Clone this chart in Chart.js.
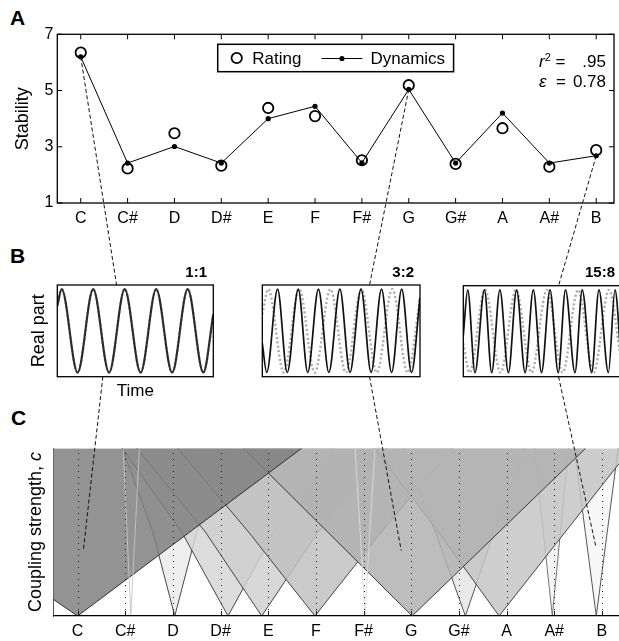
<!DOCTYPE html>
<html>
<head>
<meta charset="utf-8">
<title>Tonal stability, mode-locking and Arnold tongues</title>
<script src="https://cdn.jsdelivr.net/npm/chart.js@4.4.1/dist/chart.umd.min.js"></script>
<style>
  html, body { margin: 0; padding: 0; background: #fff; }
  body {
    position: relative; width: 619px; height: 641px; overflow: hidden;
    font-family: "Liberation Sans", Arial, sans-serif; color: #000;
  }
  canvas { position: absolute; }
  #overlay { pointer-events: none; }
  .panel-letter { position: absolute; font-weight: bold; font-size: 21px; line-height: 21px; }
  .stats { position: absolute; left: 539px; top: 52px; width: 67px; font-size: 17px; line-height: 20px; }
  .stats div { display: flex; justify-content: space-between; }
  .stats sup { font-size: 11px; line-height: 0; vertical-align: 6px; }
  .ytitle {
    position: absolute; left: 35px; top: 532px; font-size: 18px; white-space: nowrap;
    transform: translate(-50%, -50%) rotate(-90deg);
  }
</style>
</head>
<body>
<div class="panel-letter" style="left:10px;top:7px">A</div>
<div class="panel-letter" style="left:10px;top:245px">B</div>
<div class="panel-letter" style="left:11px;top:407px">C</div>

<canvas id="chartA" width="621" height="240" style="left:0;top:0"></canvas>
<canvas id="box1" width="230" height="160" style="left:0;top:250px"></canvas>
<canvas id="box2" width="180" height="135" style="left:250px;top:255px"></canvas>
<canvas id="box3" width="180" height="135" style="left:450px;top:255px"></canvas>
<canvas id="chartC" width="619" height="201" style="left:0;top:440px"></canvas>

<div class="stats">
  <div><span><i>r</i><sup>2</sup> =</span><span>.95</span></div>
  <div><span><i>ε</i>&nbsp; =</span><span>0.78</span></div>
</div>
<div class="ytitle">Coupling strength, <i>c</i></div>

<canvas id="overlay" width="619" height="641" style="left:0;top:0"></canvas>

<script>
// ---- panel A: stability per scale degree ----
const noteNames = ['C', 'C#', 'D', 'D#', 'E', 'F', 'F#', 'G', 'G#', 'A', 'A#', 'B'];
const ratingValues = [6.35, 2.23, 3.48, 2.33, 4.38, 4.09, 2.52, 5.19, 2.39, 3.66, 2.29, 2.88];
const dynamicsValues = [6.20, 2.42, 3.01, 2.42, 4.00, 4.44, 2.43, 5.04, 2.42, 4.20, 2.42, 2.68];
const stabilityTicks = [1, 3, 5, 7];

// ---- panel B: waveform extrema (time in periods of the C oscillator) ----
const ref1Times = [0, 0.14, 0.65, 1.15, 1.66, 2.16, 2.67, 3.17, 3.68, 4.18, 4.68, 5];
const ref1Values = [0.6, 1, -1, 1, -1, 1, -1, 1, -1, 1, -1, 0.4];
const tone1Times = [0, 0.14, 0.65, 1.15, 1.66, 2.16, 2.67, 3.17, 3.68, 4.18, 4.68, 5];
const tone1Values = [0.6, 1, -1, 1, -1, 1, -1, 1, -1, 1, -1, 0.4];

const ref2Times = [0, 0.19, 0.68, 1.17, 1.66, 2.16, 2.65, 3.14, 3.63, 4.12, 4.61, 5];
const ref2Values = [0.4, 1, -1, 1, -1, 1, -1, 1, -1, 1, -1, 0.78];
const tone2Times = [0, 0.14, 0.485, 0.79, 1.14, 1.44, 1.78, 2.11, 2.46, 2.78, 3.13, 3.45, 3.78, 4.10, 4.42, 4.73, 5];
const tone2Values = [-0.3, -1, 1, -1, 1, -1, 1, -1, 1, -1, 1, -1, 1, -1, 1, -1, 0.8];

const ref3Times = [0, 0.20, 0.69, 1.18, 1.67, 2.16, 2.65, 3.15, 3.64, 4.13, 4.62, 5];
const ref3Values = [-0.3, -1, 1, -1, 1, -1, 1, -1, 1, -1, 1, -0.7];
const tone3Times = [0, 0.14, 0.37, 0.67, 0.90, 1.16, 1.43, 1.69, 1.96, 2.22, 2.48, 2.75, 3.01, 3.24, 3.54, 3.77, 4.07, 4.30, 4.60, 4.81, 5];
const tone3Values = [-0.1, 1, -1, 1, -1, 1, -1, 1, -1, 1, -1, 1, -1, 1, -1, 1, -1, 1, -1, 1, -0.65];

const boxRatios = ['1:1', '3:2', '15:8'];

// ---- panel C: resonance regions (x in semitones above C, widths at c = 0.5 and c = 1) ----
const tongueCents = [0, 111.7, 203.9, 315.6, 386.3, 498.0, 603.0, 702.0, 813.7, 884.4, 996.1, 1088.3];
const tongueLeftMid = [2.57, 0.08, 0.46, 0.97, 1.18, 1.39, 0.10, 1.77, 0.63, 1.27, 0.19, 0.23];
const tongueLeftTop = [5.14, 0.16, 1.10, 2.22, 2.62, 2.88, 0.21, 3.54, 1.30, 2.62, 0.38, 0.46];
const tongueRightMid = [2.35, 0.09, 0.46, 0.97, 1.18, 1.39, 0.10, 1.82, 0.60, 1.385, 0.17, 0.23];
const tongueRightTop = [4.70, 0.18, 1.10, 2.22, 2.62, 2.88, 0.21, 3.64, 1.24, 2.77, 0.34, 0.46];
const tongueGrey = [128, null, 235, 214, 208, 193, null, 178, 229, 198, 243, 246];
const tongueEdge = ['#222', '#c4c4c4', '#333', '#333', '#333', '#333', '#dadada', '#2a2a2a', '#444', '#333', '#666', '#444'];
const tongueDrawOrder = [11, 10, 2, 8, 3, 4, 5, 9, 7, 0, 1, 6];

// ---- dashed links A -> B -> C ----
const linkNotes = [0, 7, 11];
const linkTopTime = [1.90, 3.40, 3.02];
const linkBottomTime = [1.46, 3.40, 3.02];
const linkTargetX = [0.12, 6.79, 10.87];
const linkTargetC = [0.39, 0.39, 0.42];

Chart.defaults.font.family = '"Liberation Sans", Arial, sans-serif';
Chart.defaults.font.size = 16;
Chart.defaults.color = '#000';
Chart.defaults.animation = false;

const noteTicks = (scale) => { scale.ticks = noteNames.map((_, i) => ({ value: i })); };
const hiddenGrid = { drawOnChartArea: false, drawTicks: false };
const basePlugins = { legend: { display: false }, tooltip: { enabled: false } };

const frame = {
  id: 'frame',
  afterDatasetsDraw(chart, args, opts) {
    const { ctx, chartArea: a } = chart;
    ctx.save();
    ctx.lineWidth = opts.width;
    ctx.strokeStyle = opts.color;
    ctx.strokeRect(a.left, a.top, a.right - a.left, a.bottom - a.top);
    ctx.restore();
  }
};

// MATLAB-style ticks pointing into the plot
const innerTicks = {
  id: 'innerTicks',
  afterDatasetsDraw(chart, args, opts) {
    const { ctx, chartArea: a, scales } = chart;
    const len = opts.length;
    ctx.save();
    ctx.lineWidth = 1;
    ctx.strokeStyle = opts.color;
    ctx.beginPath();
    scales.x.ticks.forEach((t) => {
      const px = scales.x.getPixelForValue(t.value);
      ctx.moveTo(px, a.bottom); ctx.lineTo(px, a.bottom - len);
      if (opts.mirror) { ctx.moveTo(px, a.top); ctx.lineTo(px, a.top + len); }
    });
    if (opts.yTicks) {
      scales.y.ticks.forEach((t) => {
        const py = scales.y.getPixelForValue(t.value);
        ctx.moveTo(a.left, py); ctx.lineTo(a.left + len, py);
        ctx.moveTo(a.right, py); ctx.lineTo(a.right - len, py);
      });
    }
    ctx.stroke();
    ctx.restore();
  }
};

const boxedLegend = {
  id: 'boxedLegend',
  afterDatasetsDraw(chart, args, opts) {
    const { ctx, chartArea: area } = chart;
    const [rating, dynamics] = chart.data.datasets;
    ctx.save();
    ctx.font = `${opts.fontSize}px ${Chart.defaults.font.family}`;
    const w1 = ctx.measureText(rating.label).width;
    const w2 = ctx.measureText(dynamics.label).width;
    const width = 14 + 10 + 10.6 + w1 + 20 + 41 + 8 + w2 + 8.5;
    const left = (area.left + area.right) / 2 - width / 2;
    const top = area.top + opts.offsetTop;
    const cy = top + opts.height / 2;
    ctx.fillStyle = '#fff';
    ctx.fillRect(left, top, width, opts.height);
    ctx.strokeStyle = '#000';
    ctx.lineWidth = 1.5;
    ctx.strokeRect(left, top, width, opts.height);

    let x = left + 14;
    ctx.lineWidth = rating.pointBorderWidth;
    ctx.beginPath();
    ctx.arc(x + 5, cy, rating.pointRadius, 0, Math.PI * 2);
    ctx.stroke();
    x += 20.6;
    ctx.fillStyle = '#000';
    ctx.textAlign = 'left';
    ctx.textBaseline = 'middle';
    ctx.fillText(rating.label, x, cy + 1);
    x += w1 + 20;
    ctx.lineWidth = dynamics.borderWidth;
    ctx.beginPath();
    ctx.moveTo(x, Math.round(cy) + 0.5); ctx.lineTo(x + 41, Math.round(cy) + 0.5);
    ctx.stroke();
    ctx.beginPath();
    ctx.arc(x + 20.5, Math.round(cy) + 0.5, dynamics.pointRadius, 0, Math.PI * 2);
    ctx.fill();
    x += 49;
    ctx.fillText(dynamics.label, x, cy + 1);
    ctx.restore();
  }
};

const ratioLabel = {
  id: 'ratioLabel',
  afterDraw(chart, args, opts) {
    const { ctx, chartArea: a } = chart;
    ctx.save();
    ctx.font = `bold ${opts.size}px ${Chart.defaults.font.family}`;
    ctx.fillStyle = '#000';
    ctx.textAlign = 'right';
    ctx.textBaseline = 'alphabetic';
    ctx.fillText(opts.text, a.right - opts.inset, a.top - opts.rise);
    ctx.restore();
  }
};

const semitoneGuides = {
  id: 'semitoneGuides',
  afterDatasetsDraw(chart) {
    const { ctx, chartArea: a, scales: { x } } = chart;
    ctx.save();
    ctx.strokeStyle = '#222';
    ctx.lineWidth = 1;
    x.ticks.forEach((t) => {
      const px = Math.round(x.getPixelForValue(t.value)) + 0.5;
      ctx.setLineDash([1, 5]);
      ctx.beginPath();
      ctx.moveTo(px, a.bottom - 6); ctx.lineTo(px, a.top);
      ctx.stroke();
      ctx.setLineDash([]);
      ctx.beginPath();
      ctx.moveTo(px, a.bottom); ctx.lineTo(px, a.bottom - 5);
      ctx.stroke();
    });
    ctx.restore();
  }
};

// ---------- panel A ----------
const chartA = new Chart(document.getElementById('chartA'), {
  type: 'line',
  data: {
    datasets: [
      {
        label: 'Rating',
        data: ratingValues.map((v, i) => ({ x: i, y: v })),
        showLine: false,
        pointStyle: 'circle',
        pointRadius: 5.2,
        pointBorderWidth: 1.8,
        pointBorderColor: '#000',
        pointBackgroundColor: 'rgba(0,0,0,0)',
        order: 2
      },
      {
        label: 'Dynamics',
        data: dynamicsValues.map((v, i) => ({ x: i, y: v })),
        borderColor: '#000',
        borderWidth: 1,
        pointRadius: 2.6,
        pointBorderWidth: 0,
        pointBackgroundColor: '#000',
        order: 1
      }
    ]
  },
  options: {
    responsive: false,
    events: [],
    layout: { padding: { top: 34.3, right: 0.5, left: 0, bottom: 0 } },
    plugins: {
      ...basePlugins,
      frame: { width: 1.3, color: '#000' },
      innerTicks: { length: 5, color: '#000', mirror: true, yTicks: true },
      boxedLegend: { fontSize: 17, offsetTop: 10, height: 27.4 }
    },
    scales: {
      x: {
        type: 'linear', min: -0.5, max: 11.38,
        afterBuildTicks: noteTicks,
        afterFit: (s) => { s.height = 37; },
        grid: hiddenGrid,
        border: { display: false },
        ticks: { autoSkip: false, maxRotation: 0, padding: 6, callback: (v) => noteNames[v] }
      },
      y: {
        type: 'linear', min: 1, max: 7,
        afterBuildTicks: (s) => { s.ticks = stabilityTicks.map((v) => ({ value: v })); },
        afterFit: (s) => { s.width = 57.3; },
        grid: hiddenGrid,
        border: { display: false },
        ticks: { padding: 4 },
        title: { display: true, text: 'Stability', font: { size: 18 }, padding: { top: 12, bottom: 0 } }
      }
    }
  },
  plugins: [frame, innerTicks, boxedLegend]
});

// ---------- panel B ----------
function waveSets(refTimes, refValues, toneTimes, toneValues, toneColor, toneWidth) {
  return [
    {
      label: 'C oscillator',
      data: refTimes.map((t, i) => ({ x: t, y: refValues[i] })),
      borderColor: '#a9a9a9',
      borderWidth: 2.4,
      borderDash: [2, 2.4],
      cubicInterpolationMode: 'monotone',
      pointRadius: 0,
      order: 2
    },
    {
      label: 'Tone oscillator',
      data: toneTimes.map((t, i) => ({ x: t, y: toneValues[i] })),
      borderColor: toneColor,
      borderWidth: toneWidth,
      cubicInterpolationMode: 'monotone',
      pointRadius: 0,
      order: 1
    }
  ];
}

const box1 = new Chart(document.getElementById('box1'), {
  type: 'line',
  data: { datasets: waveSets(ref1Times, ref1Values, tone1Times, tone1Values, '#2b2b2b', 2.1) },
  options: {
    responsive: false,
    events: [],
    layout: { padding: { top: 35, right: 16.7, left: 0, bottom: 0 } },
    plugins: {
      ...basePlugins,
      frame: { width: 1.3, color: '#000' },
      ratioLabel: { text: boxRatios[0], size: 15, inset: 6.3, rise: 8.3 }
    },
    scales: {
      x: {
        type: 'linear', min: 0, max: 5,
        afterFit: (s) => { s.height = 33.3; },
        grid: hiddenGrid, border: { display: false }, ticks: { display: false },
        title: { display: true, text: 'Time', font: { size: 17 }, padding: { top: 0, bottom: 8 } }
      },
      y: {
        type: 'linear', min: -1.1, max: 1.1,
        afterFit: (s) => { s.width = 57.3; },
        grid: hiddenGrid, border: { display: false }, ticks: { display: false },
        title: { display: true, text: 'Real part', font: { size: 18 }, padding: { top: 28, bottom: 0 } }
      }
    }
  },
  plugins: [frame, ratioLabel]
});

function smallBox(id, sets, label, padding) {
  return new Chart(document.getElementById(id), {
    type: 'line',
    data: { datasets: sets },
    options: {
      responsive: false,
      events: [],
      layout: { padding },
      plugins: {
        ...basePlugins,
        frame: { width: 1.3, color: '#000' },
        ratioLabel: { text: label, size: 15, inset: 6, rise: 8.3 }
      },
      scales: {
        x: { type: 'linear', min: 0, max: 5, display: false },
        y: { type: 'linear', min: -1.1, max: 1.1, display: false }
      }
    },
    plugins: [frame, ratioLabel]
  });
}

const box2 = smallBox('box2', waveSets(ref2Times, ref2Values, tone2Times, tone2Values, '#111', 1.7),
  boxRatios[1], { left: 12.3, top: 30, right: 10, bottom: 13.3 });
const box3 = smallBox('box3', waveSets(ref3Times, ref3Values, tone3Times, tone3Values, '#111', 1.7),
  boxRatios[2], { left: 13.3, top: 30.7, right: 9, bottom: 13.3 });

// ---------- panel C ----------
const tongueDatasets = tongueDrawOrder.map((k, pos) => {
  const apex = tongueCents[k] / 100;
  const grey = tongueGrey[k];
  return {
    label: noteNames[k],
    data: [
      { x: apex - tongueLeftTop[k], y: 1 },
      { x: apex - tongueLeftMid[k], y: 0.5 },
      { x: apex, y: 0 },
      { x: apex + tongueRightMid[k], y: 0.5 },
      { x: apex + tongueRightTop[k], y: 1 }
    ],
    borderColor: tongueEdge[k],
    borderWidth: 0.9,
    backgroundColor: grey === null ? 'rgba(0,0,0,0)' : `rgba(${grey},${grey},${grey},0.85)`,
    fill: grey === null ? false : 'end',
    tension: 0,
    pointRadius: 0,
    order: tongueDrawOrder.length - pos
  };
});

const chartC = new Chart(document.getElementById('chartC'), {
  type: 'line',
  data: { datasets: tongueDatasets },
  options: {
    responsive: false,
    events: [],
    layout: { padding: { top: 8.3, right: 0, left: 0, bottom: 0 } },
    plugins: basePlugins,
    scales: {
      x: {
        type: 'linear', min: -0.51, max: 11.36,
        afterBuildTicks: noteTicks,
        afterFit: (s) => { s.height = 25; },
        grid: hiddenGrid,
        border: { display: true, color: '#000', width: 1.3, z: 1 },
        ticks: { autoSkip: false, maxRotation: 0, padding: 6, callback: (v) => noteNames[v] }
      },
      y: {
        type: 'linear', min: 0, max: 1,
        afterFit: (s) => { s.width = 53.3; },
        grid: hiddenGrid,
        border: { display: true, color: '#555', width: 1 },
        ticks: { display: false }
      }
    }
  },
  plugins: [semitoneGuides]
});

// ---------- dashed links drawn over the whole figure ----------
function pagePoint(chart, xv, yv) {
  return {
    x: chart.canvas.offsetLeft + chart.scales.x.getPixelForValue(xv),
    y: chart.canvas.offsetTop + chart.scales.y.getPixelForValue(yv)
  };
}

const boxCharts = [box1, box2, box3];
const linkSegments = [];
linkNotes.forEach((note, i) => {
  const box = boxCharts[i];
  const start = pagePoint(chartA, note, dynamicsValues[note]);
  const boxTop = pagePoint(box, linkTopTime[i], box.scales.y.max);
  const boxBottom = pagePoint(box, linkBottomTime[i], box.scales.y.min);
  const end = pagePoint(chartC, linkTargetX[i], linkTargetC[i]);
  linkSegments.push([start, boxTop], [boxBottom, end]);
});

new Chart(document.getElementById('overlay'), {
  type: 'line',
  data: {
    datasets: linkSegments.map((seg) => ({
      data: seg,
      borderColor: '#111',
      borderWidth: 1,
      borderDash: [4, 2.5],
      pointRadius: 0,
      fill: false,
      clip: false
    }))
  },
  options: {
    responsive: false,
    events: [],
    layout: { padding: 0 },
    plugins: basePlugins,
    scales: {
      x: { type: 'linear', min: 0, max: 619, display: false },
      y: { type: 'linear', min: 0, max: 641, reverse: true, display: false }
    }
  }
});
</script>
</body>
</html>
